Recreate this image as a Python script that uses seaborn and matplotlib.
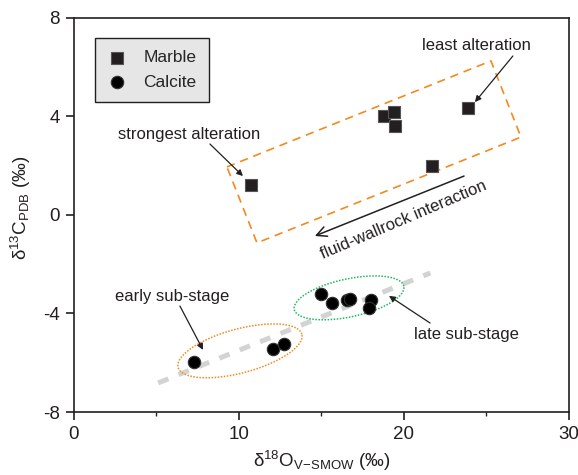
import numpy as np
import pandas as pd
import matplotlib
matplotlib.use("Agg")
import matplotlib.pyplot as plt
import seaborn as sns

# ---- data ----
marble_x = [10.7, 18.8, 19.4, 19.45, 23.9, 21.7]
marble_y = [1.2, 4.0, 4.17, 3.6, 4.33, 1.98]
calcite_x = [7.27, 12.06, 12.73, 14.97, 15.64, 16.55, 16.7, 18.0, 17.88]
calcite_y = [-5.97, -5.44, -5.24, -3.21, -3.58, -3.45, -3.40, -3.46, -3.78]
trend_x = [5.1, 21.6]
trend_y = [-6.82, -2.36]
rect_x = [9.27, 25.27, 27.09, 11.09, 9.27]
rect_y = [1.94, 6.24, 3.15, -1.14, 1.94]
x_ticks = [0, 10, 20, 30]
y_ticks = [-8, -4, 0, 4, 8]

sns.set_theme(style="white")
plt.rcParams['font.family'] = ['Liberation Sans', 'DejaVu Sans']
plt.rcParams['mathtext.fontset'] = 'custom'
plt.rcParams['mathtext.rm'] = 'Liberation Sans'
plt.rcParams['mathtext.it'] = 'Liberation Sans:italic'
plt.rcParams['mathtext.default'] = 'regular'
plt.rcParams['axes.unicode_minus'] = False

fig = plt.figure(figsize=(5.78, 4.75), dpi=100)
ax = fig.add_axes([0.128, 0.1326, 0.8564, 0.8305])
ax.set_xlim(0, 30)
ax.set_ylim(-8, 8)

txt = '#231f20'

df_m = pd.DataFrame({'x': marble_x, 'y': marble_y})
df_c = pd.DataFrame({'x': calcite_x, 'y': calcite_y})

# trend line
sns.lineplot(x=trend_x, y=trend_y, ax=ax, color='#d3d3d3', linewidth=3.6,
             dashes=False, zorder=1)
ax.lines[-1].set_dashes((2.2, 2.2))

sns.scatterplot(data=df_m, x='x', y='y', marker='s', s=70, color='#231f20',
                edgecolor='#555555', linewidth=0.8, ax=ax, zorder=3, label='Marble')
sns.scatterplot(data=df_c, x='x', y='y', marker='o', s=80, color='#000000',
                edgecolor='#333333', linewidth=0.8, ax=ax, zorder=3, label='Calcite')

# dashed rectangle
ax.plot(rect_x, rect_y, color='#f28a1e', linewidth=1.2, dashes=(5, 3.5), zorder=2)

# ellipses drawn in display-proportional space
def ellipse(cx, cy, a, b, ang, color):
    t = np.linspace(0, 2 * np.pi, 300)
    th = np.deg2rad(ang)
    c = ax.transData.transform([[cx, cy]])[0]
    u = a * np.cos(t) * np.cos(th) - b * np.sin(t) * np.sin(th)
    v = a * np.cos(t) * np.sin(th) + b * np.sin(t) * np.cos(th)
    pts = ax.transData.inverted().transform(np.column_stack([c[0] + u, c[1] + v]))
    ax.plot(pts[:, 0], pts[:, 1], color=color, linewidth=1.1, linestyle=(0, (1, 1)), zorder=2)

ellipse(10.06, -5.52, 64, 22, 15, '#f28a1e')
ellipse(16.67, -3.37, 56, 19, 12, '#1fb860')

fs = 12
arr = dict(arrowstyle='-|>', color='#231f20', lw=0.9, mutation_scale=9, shrinkA=0, shrinkB=0)
ax.annotate('', xy=(10.24, 1.57), xytext=(8.24, 2.87), arrowprops=arr)
ax.text(6.97, 3.24, 'strongest alteration', fontsize=fs, ha='center', va='center', color=txt)
ax.annotate('', xy=(24.3, 4.57), xytext=(26.6, 6.44), arrowprops=arr)
ax.text(24.42, 6.88, 'least alteration', fontsize=fs, ha='center', va='center', color=txt)
ax.annotate('', xy=(7.82, -5.48), xytext=(6.42, -3.70), arrowprops=arr)
ax.text(5.94, -3.33, 'early sub-stage', fontsize=fs, ha='center', va='center', color=txt)
ax.annotate('', xy=(19.09, -3.29), xytext=(21.58, -4.39), arrowprops=arr)
ax.text(23.76, -4.84, 'late sub-stage', fontsize=fs, ha='center', va='center', color=txt)
ax.annotate('', xy=(14.6, -0.86), xytext=(23.64, 1.57),
            arrowprops=dict(arrowstyle='->', color='#231f20', lw=1.1, mutation_scale=18,
                            shrinkA=0, shrinkB=0))
ax.text(20.0, -0.2, 'fluid-wallrock interaction', fontsize=fs, ha='center', va='center',
        rotation=23, rotation_mode='anchor', color=txt)

# axes styling
ax.set_xticks(x_ticks)
ax.set_yticks(y_ticks)
ax.set_xticks([5, 15, 25], minor=True)
ax.tick_params(axis='both', which='major', direction='out', length=6, width=1.2,
               labelsize=13.5, colors='#231f20', bottom=True, left=True, pad=4)
ax.tick_params(axis='x', which='minor', direction='out', length=3, width=1, bottom=True)
for sp in ax.spines.values():
    sp.set_color('#231f20')
    sp.set_linewidth(1.2)
ax.set_xlabel(r'$\delta^{18}$O$_{\rm V\!-\!SMOW}$ (‰)', fontsize=13.5, color=txt)
ax.set_ylabel(r'$\delta^{13}$C$_{\rm PDB}$ (‰)', fontsize=13.5, color=txt)
ax.xaxis.set_label_coords(0.5, -0.093)
ax.yaxis.set_label_coords(-0.083, 0.517)

leg = ax.legend(loc='upper left', bbox_to_anchor=(0.042, 0.948), borderaxespad=0,
                frameon=True, fancybox=False, facecolor='#e6e6e7', edgecolor='#231f20',
                framealpha=1, fontsize=12.5, handletextpad=0.9, borderpad=0.7,
                labelspacing=0.55, handlelength=1.2)
leg.get_frame().set_linewidth(1.0)

fig.savefig('out.png', dpi=100)
